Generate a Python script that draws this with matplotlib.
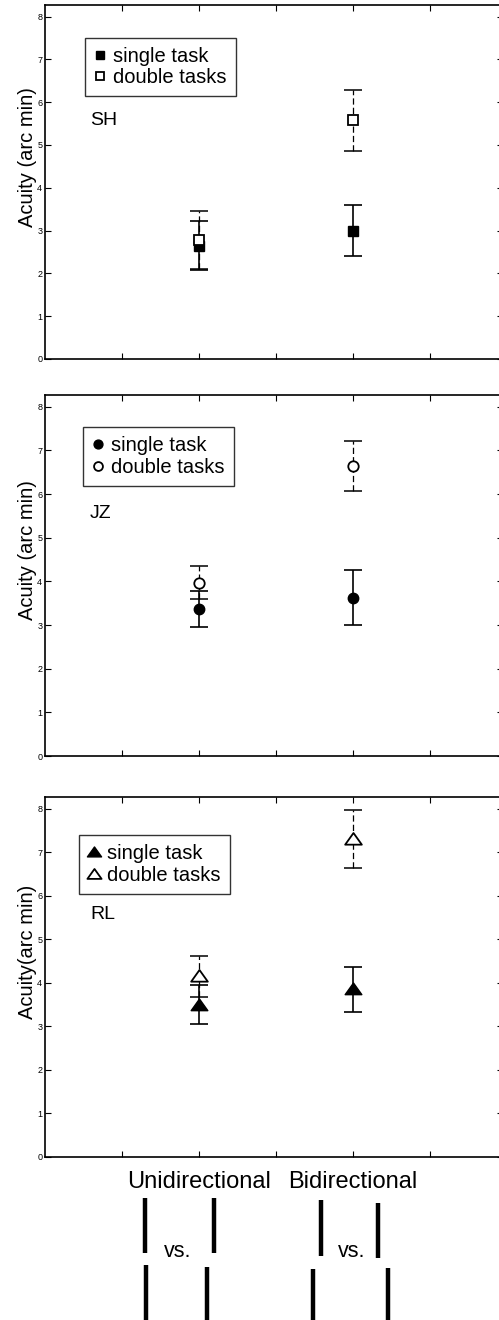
import matplotlib
matplotlib.use("Agg")
import matplotlib.pyplot as plt
from matplotlib.path import Path
import numpy as np

plt.rcParams["font.family"] = ["Liberation Sans", "DejaVu Sans"]

# conditions on the x axis
conditions = ["Unidirectional", "Bidirectional"]
cond_x = [2, 4]

# per-observer acuity (arc min), mean and error
subjects = ["SH", "JZ", "RL"]
single_mean = [[2.65, 3.00], [3.37, 3.63], [3.50, 3.85]]
single_err = [[0.58, 0.60], [0.41, 0.62], [0.45, 0.52]]
double_mean = [[2.78, 5.58], [3.97, 6.65], [4.15, 7.31]]
double_err = [[0.68, 0.71], [0.38, 0.57], [0.47, 0.67]]
ylabels = ["Acuity (arc min)", "Acuity (arc min)", "Acuity(arc min)"]

# stimulus sketches under the x axis (figure pixels: x, y_top, y_bottom)
stim_bars = [
  (145, 1198, 1253), (214, 1198, 1253), (146, 1265, 1322), (207, 1267, 1322),
  (321, 1200, 1256), (378, 1203, 1258), (313, 1269, 1322), (388, 1268, 1322),
]
vs_pos = [(178, 1257), (352, 1257)]

tri = Path([(-1, -0.62), (1, -0.62), (0, 0.78), (-1, -0.62)],
           [Path.MOVETO, Path.LINETO, Path.LINETO, Path.CLOSEPOLY])
markers = [("s", 7.5), ("o", 7.5), (tri, 12)]

# axes boxes in figure pixels: top, bottom
W, H = 499, 1320
boxes = [(5, 359), (395, 756), (797, 1157)]
legend_top = [0.907, 0.911, 0.894]
legend_left = [0.087, 0.083, 0.074]

fig = plt.figure(figsize=(W / 100, H / 100), dpi=100)
axes = []
for i, (top, bot) in enumerate(boxes):
  ax = fig.add_axes([45 / W, 1 - bot / H, 458 / W, (bot - top) / H])
  axes.append(ax)
  m, ms = markers[i]
  ax.errorbar(cond_x, single_mean[i], yerr=single_err[i], fmt="none",
              ecolor="black", elinewidth=1.2, capsize=6.5, capthick=1.2)
  eb = ax.errorbar(cond_x, double_mean[i], yerr=double_err[i], fmt="none",
                   ecolor="black", elinewidth=0.9, capsize=6.5, capthick=1.1)
  eb[2][0].set_linestyle((0, (5, 2.5)))
  ax.plot(cond_x, single_mean[i], ls="none", marker=m, ms=ms, color="black",
          mfc="black", label="single task")
  ax.plot(cond_x, double_mean[i], ls="none", marker=m, ms=ms, color="black",
          mfc="white", mew=1.3, label="double tasks")
  ax.set_xlim(0, 5.95)
  ax.set_ylim(0, 8.27)
  ax.set_xticks([1, 2, 3, 4, 5])
  ax.set_xticklabels([])
  ax.set_yticks(range(9))
  ax.tick_params(direction="in", length=4, width=0.8, top=True, right=True,
                 labelsize=6.5, pad=2)
  for s in ax.spines.values():
    s.set_linewidth(1.2)
  ax.set_ylabel(ylabels[i], fontsize=14.5)
  ax.yaxis.set_label_coords(-0.017, 0.57)
  ax.text(0.098, 0.66, subjects[i], transform=ax.transAxes, fontsize=14,
          va="baseline")
  leg = ax.legend(loc="upper left", bbox_to_anchor=(legend_left[i], legend_top[i]),
                  fontsize=14.5, frameon=True, fancybox=False, handlelength=0.6,
                  handletextpad=0.35, labelspacing=0.12, borderpad=0.45,
                  borderaxespad=0, markerscale=0.85)
  leg.get_frame().set_edgecolor("black")
  leg.get_frame().set_linewidth(1.0)

for x, name in zip(cond_x, conditions):
  axes[2].text(x, -0.086, name, transform=axes[2].get_xaxis_transform(),
               ha="center", va="baseline", fontsize=17)

# overlay in pixel units for the stimulus sketches
ov = fig.add_axes([0, 0, 1, 1], zorder=-1)
ov.set_xlim(0, W)
ov.set_ylim(H, 0)
ov.axis("off")
for x, y0, y1 in stim_bars:
  ov.plot([x, x], [y0, y1], color="black", lw=3.2, solid_capstyle="butt")
for x, y in vs_pos:
  ov.text(x, y, "vs.", ha="center", va="baseline", fontsize=15.5)

fig.savefig("out.png", dpi=100)
